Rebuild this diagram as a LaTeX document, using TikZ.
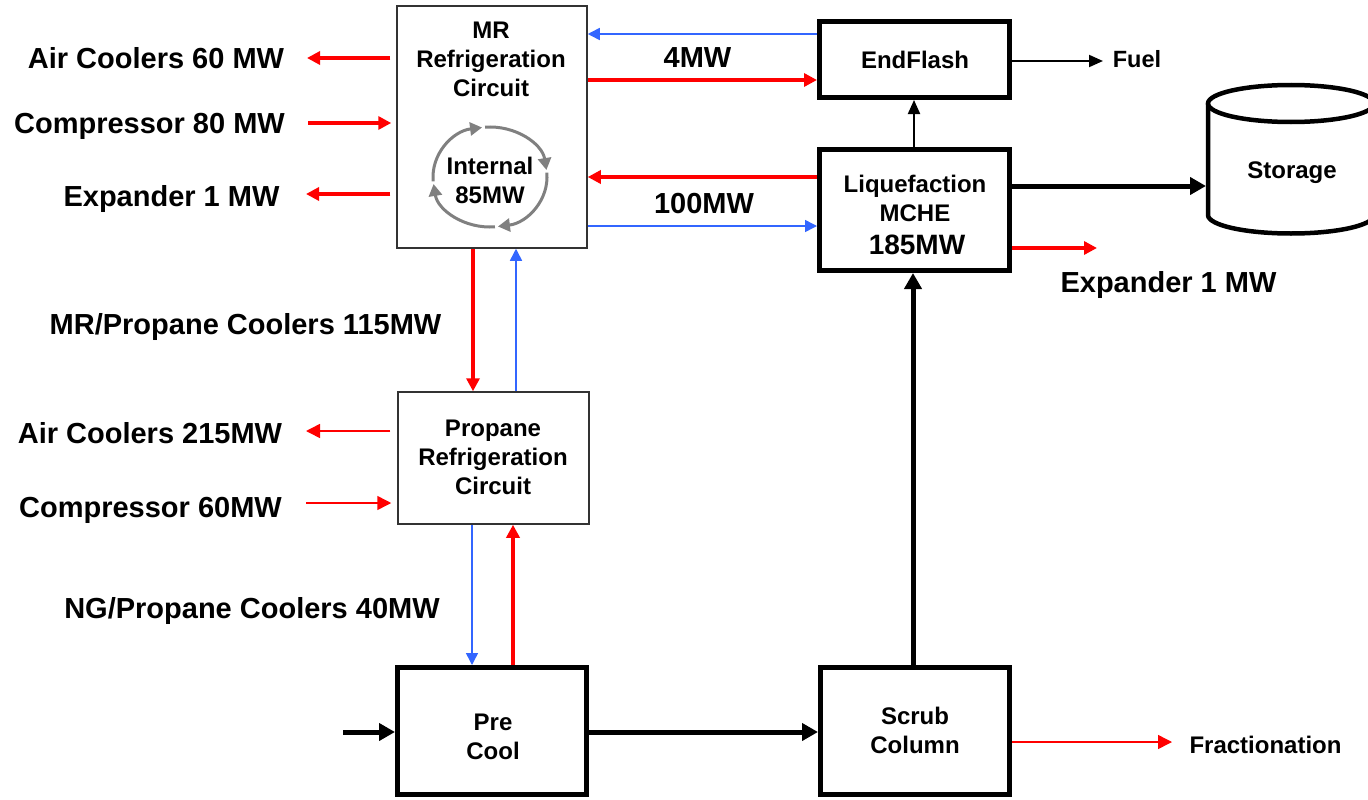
\documentclass[tikz,border=0pt]{standalone}
\usepackage{fontspec}
\setmainfont{Liberation Sans}
\usetikzlibrary{arrows.meta}
\definecolor{lineblue}{RGB}{51,102,255}
\begin{document}
\begin{tikzpicture}[x=1pt,y=-1pt,
  thinbox/.style={draw=black!80, line width=1.5pt, inner sep=0pt},
  thickbox/.style={draw=black, line width=5pt, inner sep=0pt},
  lbl/.style={font=\fontsize{29}{34}\selectfont\bfseries, inner sep=0pt, outer sep=0pt, anchor=base},
  txt/.style={font=\fontsize{24}{29}\selectfont\bfseries, align=center, inner sep=0pt, outer sep=0pt},
  rthick/.style={draw=red, line width=3.5pt, -{Triangle[length=13pt,width=13pt]}},
  rthin/.style={draw=red, line width=1.5pt, -{Triangle[length=14pt,width=14pt]}},
  bthin/.style={draw=lineblue, line width=1.5pt, -{Triangle[length=12pt,width=12pt]}},
  kthick/.style={draw=black, line width=5pt, -{Triangle[length=16pt,width=17pt]}},
  kthin/.style={draw=black, line width=2pt, -{Triangle[length=14pt,width=12pt]}},
  circ/.style={draw=gray, line width=3pt, -{Triangle[length=12pt,width=13pt]}},
  cyl/.style={draw=black, line width=4.5pt}
]
\useasboundingbox (0,0) rectangle (1368,800);

% boxes
\node[thinbox, minimum width=190pt, minimum height=242pt] (mr) at (492,127) {};
\node[thinbox, minimum width=191pt, minimum height=132pt] (pr) at (493.5,458) {};
\node[thickbox, minimum width=189pt, minimum height=127pt] (pc) at (492,731) {};
\node[thickbox, minimum width=189pt, minimum height=127pt] (sc) at (915,731) {};
\node[thickbox, minimum width=190pt, minimum height=121pt] (lq) at (914.5,210) {};
\node[thickbox, minimum width=190pt, minimum height=76pt] (ef) at (914.5,59.5) {};

% box texts
\node[txt] (mrt) at (491,59.5) {MR\\Refrigeration\\Circuit};
\node[txt] (mri) at (490,180) {Internal\\85MW};
\node[txt] (prt) at (493,457.5) {Propane\\Refrigeration\\Circuit};
\node[txt] (pct) at (493,737) {Pre\\Cool};
\node[txt] (sct) at (915,730.5) {Scrub\\Column};
\node[txt, anchor=base] (eft) at (915,69) {EndFlash};
\node[txt] (lqt) at (915,198.5) {Liquefaction\\MCHE};
\node[font=\fontsize{28}{34}\selectfont\bfseries, inner sep=0pt, anchor=base] (lqm) at (917,254) {185MW};

% internal cycle
\coordinate (cc) at (490,177);
\draw[circ] ([shift={(185:57pt and 50pt)}]cc) arc[start angle=185, end angle=98, x radius=57pt, y radius=50pt];
\draw[circ] ([shift={(95:57pt and 50pt)}]cc) arc[start angle=95, end angle=8, x radius=57pt, y radius=50pt];
\draw[circ] ([shift={(5:57pt and 50pt)}]cc) arc[start angle=5, end angle=-82, x radius=57pt, y radius=50pt];
\draw[circ] ([shift={(-85:57pt and 50pt)}]cc) arc[start angle=-85, end angle=-172, x radius=57pt, y radius=50pt];

% storage cylinder
\draw[cyl] (1291,103.5) ellipse[x radius=83pt, y radius=18.5pt];
\draw[cyl] (1208,103.5) -- (1208,215) arc[start angle=180, end angle=360, x radius=83pt, y radius=18.5pt] -- (1374,103.5);
\node[txt, anchor=base] (stt) at (1292,178) {Storage};

% left labels
\node[lbl] (l1) at (156,69) {Air Coolers 60 MW};
\node[lbl] (l2) at (149.5,133) {Compressor 80 MW};
\node[lbl] (l3) at (171.5,206) {Expander 1 MW};
\node[lbl] (l4) at (245.5,334) {MR/Propane Coolers 115MW};
\node[lbl] (l5) at (150,443) {Air Coolers 215MW};
\node[lbl] (l6) at (150.5,517) {Compressor 60MW};
\node[lbl] (l7) at (252,618) {NG/Propane Coolers 40MW};

% right / middle labels
\node[lbl] (l8) at (697.5,67) {4MW};
\node[lbl] (l9) at (704,213) {100MW};
\node[font=\fontsize{23.5}{28}\selectfont\bfseries, inner sep=0pt, anchor=base] (l10) at (1137,67) {Fuel};
\node[lbl] (l11) at (1168.5,292) {Expander 1 MW};
\node[font=\fontsize{24}{29}\selectfont\bfseries, inner sep=0pt, anchor=base] (l12) at (1265.5,753) {Fractionation};

% free ends and levels
\coordinate (ac60) at (307,58);
\coordinate (cp80) at (308,123);
\coordinate (ex1) at (306,194);
\coordinate (ac215) at (306,431);
\coordinate (cp60) at (306,503);
\coordinate (xr1) at (473,0);
\coordinate (xb1) at (516,0);
\coordinate (xb2) at (472,0);
\coordinate (xr2) at (513,0);
\coordinate (inp) at (343,732);
\coordinate (fr) at (1172,742);
\coordinate (xk) at (913,0);
\coordinate (xk2) at (914,0);
\coordinate (fu) at (1103,61);
\coordinate (stin) at (1206,186);
\coordinate (exr) at (1097,248);
\coordinate (yb1) at (0,34);
\coordinate (yr1) at (0,80);
\coordinate (yr2) at (0,177);
\coordinate (yb2) at (0,226);

% MR left side
\draw[rthick] ([xshift=-6pt]mr.west |- ac60) -- (ac60);
\draw[rthick] (cp80) -- ([xshift=-5pt]mr.west |- cp80);
\draw[rthick] ([xshift=-6pt]mr.west |- ex1) -- (ex1);

% MR <-> Propane
\draw[rthick] (mr.south -| xr1) -- (pr.north -| xr1);
\draw[bthin] (pr.north -| xb1) -- (mr.south -| xb1);

% Propane left side
\draw[rthin] ([xshift=-7pt]pr.west |- ac215) -- (ac215);
\draw[rthin] (cp60) -- ([xshift=-6pt]pr.west |- cp60);

% Propane <-> Pre Cool
\draw[bthin] (pr.south -| xb2) -- (pc.north -| xb2);
\draw[rthick] (pc.north -| xr2) -- (pr.south -| xr2);

% main process line
\draw[kthick] (inp) -- (pc.west |- inp);
\draw[kthick] (pc.east |- inp) -- (sc.west |- inp);
\draw[rthin] (sc.east |- fr) -- (fr);
\draw[kthick] (sc.north -| xk) -- (lq.south -| xk);
\draw[kthin] (lq.north -| xk2) -- (ef.south -| xk2);
\draw[kthin] (ef.east |- fu) -- (fu);
\draw[kthick] (lq.east |- stin) -- (stin);
\draw[rthick] (lq.east |- exr) -- (exr);

% MR <-> EndFlash / Liquefaction
\draw[bthin] (ef.west |- yb1) -- (mr.east |- yb1);
\draw[rthick] (mr.east |- yr1) -- (ef.west |- yr1);
\draw[rthick] (lq.west |- yr2) -- (mr.east |- yr2);
\draw[bthin] (mr.east |- yb2) -- (lq.west |- yb2);
\end{tikzpicture}
\end{document}
